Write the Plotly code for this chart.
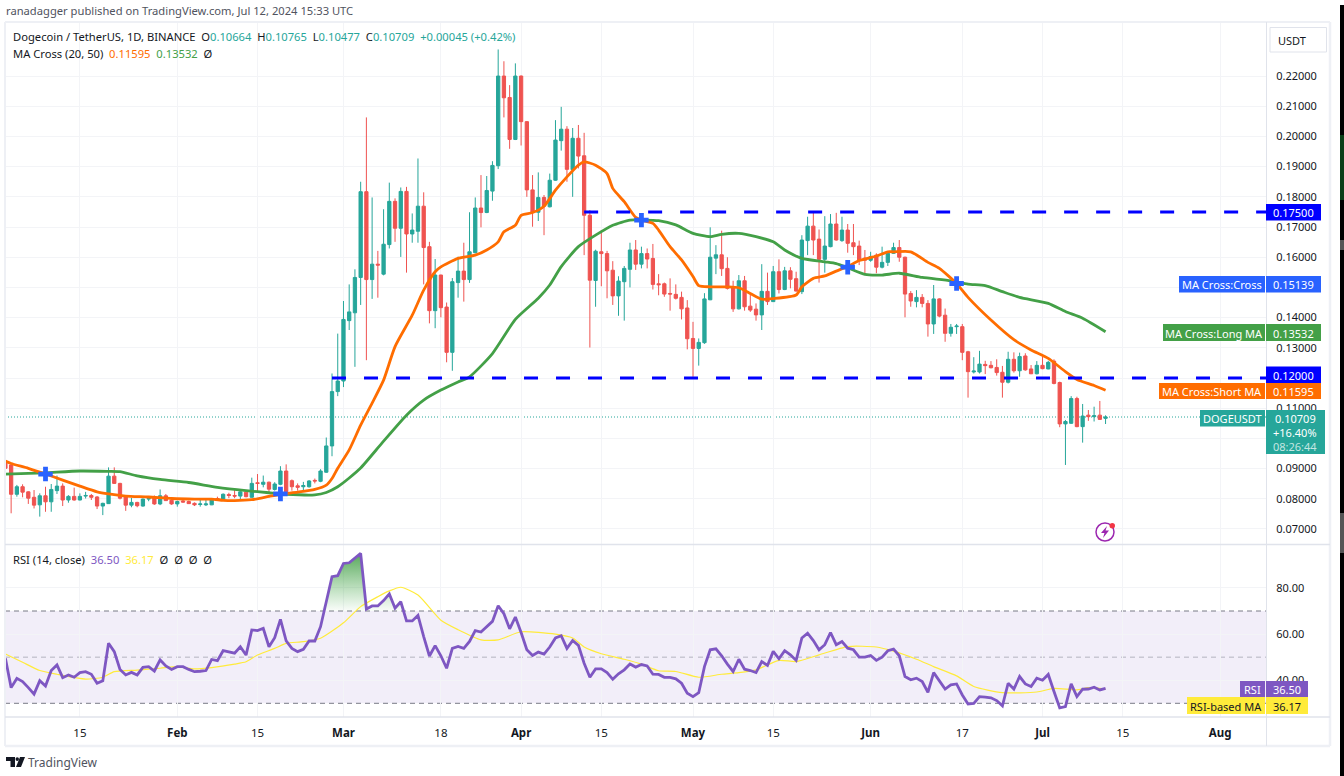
import pandas as pd
import plotly.graph_objects as go

# ---------- data ----------
first_day = "2024-01-02"
opens = [
 .0925,.0912,.0815,.0840,.0823,.0805,.0780,.0810,.0790,.0827,
 .0842,.0796,.0808,.0796,.0809,.0811,.0806,.0776,.0784,.0875,
 .0851,.0806,.0779,.0788,.0776,.0799,.0807,.0783,.0810,.0795,
 .0783,.0793,.0791,.0785,.0781,.0780,.0780,.0801,.0798,.0814,
 .0811,.0809,.0822,.0805,.0853,.0848,.0855,.0831,.0848,.0892,
 .0860,.0843,.0840,.0840,.0861,.0858,.0888,.0975,.1155,.1190,
 .1390,.1416,.1533,.1817,.1526,.1577,.1544,.1642,.1785,.1696,
 .1818,.1677,.1686,.1769,.1635,.1423,.1541,.1435,.1285,.1516,
 .1554,.1526,.1615,.1763,.1748,.1819,.1903,.2200,.2129,.1990,
 .2200,.2049,.1823,.1749,.1798,.1767,.1855,.1986,.2024,.1890,
 .1994,.1936,.1739,.1523,.1618,.1612,.1557,.1472,.1519,.1560,
 .1624,.1577,.1612,.1596,.1512,.1512,.1480,.1477,.1467,.1432,
 .1331,.1298,.1317,.1459,.1597,.1608,.1563,.1500,.1429,.1522,
 .1438,.1428,.1409,.1487,.1453,.1552,.1493,.1555,.1529,.1486,
 .1655,.1703,.1660,.1593,.1635,.1710,.1655,.1690,.1648,.1637,
 .1597,.1590,.1607,.1567,.1583,.1613,.1632,.1600,.1480,.1453,
 .1467,.1447,.1379,.1462,.1408,.1348,.1370,.1370,.1287,.1220,
 .1220,.1245,.1242,.1235,.1219,.1186,.1262,.1224,.1273,.1230,
 .1214,.1242,.1230,.1256,.1185,.1048,.1050,.1132,.1039,.1077,
 .1072,.1077,.10664]
highs = [
 .0931,.0917,.0846,.0848,.0825,.0829,.0818,.0840,.0849,.0877,
 .0851,.0812,.0837,.0818,.0823,.0816,.0809,.0787,.0904,.0904,
 .0853,.0812,.0803,.0790,.0801,.0807,.0811,.0831,.0816,.0798,
 .0794,.0798,.0794,.0788,.0802,.0796,.0801,.0807,.0818,.0820,
 .0834,.0829,.0829,.0870,.0882,.0877,.0857,.0855,.0908,.0914,
 .0864,.0851,.0856,.0862,.0867,.0898,.1003,.1215,.1347,.1455,
 .1510,.1560,.1850,.2063,.1798,.1621,.1759,.1847,.1795,.1831,
 .1833,.1745,.1927,.1815,.1651,.1594,.1542,.1450,.1531,.1602,
 .1648,.1749,.1798,.1872,.1869,.1918,.2288,.2249,.2170,.2242,
 .2202,.2051,.1872,.1881,.1806,.1877,.2054,.2098,.2034,.2028,
 .2038,.2012,.1756,.1625,.1690,.1621,.1587,.1537,.1571,.1648,
 .1657,.1635,.1629,.1644,.1544,.1516,.1530,.1510,.1486,.1458,
 .1386,.1331,.1481,.1699,.1640,.1688,.1600,.1522,.1541,.1538,
 .1481,.1447,.1577,.1549,.1571,.1593,.1568,.1567,.1552,.1673,
 .1734,.1751,.1692,.1736,.1743,.1747,.1734,.1710,.1710,.1655,
 .1624,.1618,.1613,.1635,.1618,.1648,.1657,.1602,.1488,.1491,
 .1478,.1458,.1508,.1464,.1430,.1379,.1379,.1379,.1290,.1269,
 .1290,.1257,.1256,.1262,.1240,.1287,.1285,.1284,.1282,.1243,
 .1256,.1271,.1257,.1262,.1188,.1061,.1140,.1138,.1114,.1094,
 .1105,.1124,.10765]
lows = [
 .0890,.0752,.0807,.0805,.0783,.0768,.0741,.0757,.0757,.0816,
 .0776,.0787,.0794,.0795,.0801,.0796,.0766,.0746,.0783,.0849,
 .0798,.0760,.0772,.0772,.0774,.0792,.0780,.0779,.0793,.0780,
 .0774,.0787,.0783,.0776,.0774,.0776,.0779,.0794,.0796,.0802,
 .0802,.0794,.0805,.0804,.0823,.0838,.0820,.0827,.0845,.0818,
 .0827,.0827,.0829,.0837,.0851,.0855,.0886,.0941,.1140,.1170,
 .1359,.1237,.1442,.1259,.1462,.1466,.1540,.1629,.1651,.1601,
 .1549,.1648,.1648,.1510,.1381,.1365,.1401,.1252,.1224,.1466,
 .1453,.1515,.1613,.1699,.1746,.1787,.1892,.2063,.1959,.1988,
 .1970,.1800,.1701,.1720,.1673,.1765,.1853,.1953,.1850,.1800,
 .1894,.1607,.1301,.1436,.1504,.1464,.1442,.1406,.1390,.1500,
 .1558,.1563,.1563,.1493,.1474,.1469,.1423,.1460,.1394,.1295,
 .1204,.1241,.1313,.1458,.1544,.1538,.1493,.1419,.1427,.1423,
 .1419,.1390,.1359,.1442,.1452,.1480,.1491,.1497,.1486,.1478,
 .1607,.1607,.1516,.1549,.1633,.1655,.1651,.1615,.1607,.1574,
 .1541,.1585,.1547,.1563,.1571,.1611,.1585,.1401,.1436,.1434,
 .1434,.1337,.1346,.1401,.1320,.1337,.1346,.1259,.1135,.1215,
 .1215,.1213,.1232,.1208,.1135,.1182,.1218,.1204,.1224,.1213,
 .1212,.1229,.1229,.1179,.1037,.0912,.1048,.1037,.0986,.1058,
 .1056,.1061,.10477]
closes = [
 .0901,.0815,.0840,.0822,.0802,.0779,.0810,.0790,.0831,.0842,
 .0796,.0808,.0796,.0808,.0811,.0805,.0776,.0785,.0875,.0851,
 .0802,.0779,.0788,.0777,.0799,.0801,.0783,.0810,.0794,.0783,
 .0791,.0789,.0784,.0780,.0783,.0783,.0799,.0799,.0815,.0811,
 .0809,.0823,.0807,.0851,.0851,.0855,.0832,.0849,.0892,.0823,
 .0840,.0838,.0844,.0859,.0859,.0892,.0975,.1155,.1190,.1394,
 .1419,.1533,.1817,.1526,.1577,.1574,.1643,.1785,.1696,.1818,
 .1677,.1690,.1769,.1632,.1423,.1541,.1433,.1285,.1519,.1554,
 .1526,.1618,.1763,.1748,.1821,.1904,.2200,.2128,.1990,.2200,
 .2049,.1823,.1749,.1798,.1769,.1855,.1988,.2024,.1891,.1994,
 .1935,.1739,.1524,.1620,.1612,.1555,.1472,.1521,.1563,.1624,
 .1577,.1612,.1594,.1510,.1509,.1478,.1478,.1464,.1429,.1330,
 .1298,.1318,.1462,.1600,.1608,.1562,.1497,.1429,.1522,.1436,
 .1425,.1409,.1487,.1453,.1552,.1493,.1555,.1527,.1488,.1657,
 .1703,.1657,.1593,.1637,.1710,.1657,.1690,.1646,.1635,.1591,
 .1590,.1602,.1567,.1583,.1613,.1632,.1600,.1478,.1455,.1467,
 .1447,.1379,.1462,.1405,.1348,.1368,.1372,.1285,.1221,.1223,
 .1246,.1241,.1234,.1218,.1186,.1262,.1224,.1271,.1227,.1214,
 .1242,.1231,.1252,.1182,.1048,.1056,.1132,.1039,.1074,.1072,
 .1075,.1063,.10709]
rsi = [
 49.5,36.8,40.8,39.4,36.8,34.0,39.8,37.5,44.2,46.6,
 41.1,42.3,41.3,43.3,43.7,42.6,38.7,39.8,56.0,52.4,
 44.7,42.3,43.4,42.3,45.6,45.9,44.0,48.8,46.2,44.7,
 45.9,45.9,44.7,43.7,43.9,44.2,49.0,48.5,52.8,52.4,
 51.7,54.5,50.9,61.8,61.5,62.5,54.5,58.4,66.4,57.1,
 53.8,52.4,53.4,57.0,57.0,63.2,74.0,84.9,85.3,90.6,
 90.9,92.8,95.0,70.9,72.2,72.2,74.5,77.4,71.2,74.0,
 65.7,65.7,68.1,58.9,50.5,55.0,50.6,45.2,53.8,54.6,
 53.8,56.8,61.5,60.9,63.0,65.5,72.3,68.8,62.3,67.4,
 60.7,53.2,50.7,52.2,51.3,54.4,58.3,59.3,53.8,57.2,
 55.1,47.4,41.3,44.9,44.9,43.3,40.4,42.8,44.5,47.0,
 45.7,46.8,46.2,42.6,42.5,41.3,41.2,40.6,38.7,34.4,
 32.9,34.6,45.9,53.2,53.6,50.6,47.0,43.8,49.1,44.8,
 44.2,43.3,48.1,46.4,52.5,49.3,52.8,51.0,48.6,58.3,
 60.4,57.2,53.2,55.4,60.7,55.4,56.8,53.9,53.2,50.0,
 50.0,50.7,48.6,50.0,52.8,53.5,50.6,41.6,40.2,40.9,
 39.4,34.8,43.3,39.9,36.2,38.0,38.4,33.6,29.7,30.0,
 32.9,32.7,32.4,31.2,28.9,38.7,36.2,41.6,38.4,37.3,
 40.9,40.0,42.5,35.1,28.0,28.6,38.4,32.9,36.1,36.2,
 37.0,35.8,36.5]

ma20_dates_offset = [-30,-29,-26,-23,-20,-17,-14,-12,-9,-5,-1,3,6,8,10,13,16,18,21,24,26,27,28,30,32,34,36,38,41,43,
 45,46,49,52,54,56,57,59,60,62,64,66,68,70,71,73,75,76,78,80,81,83,84,86,88,90,91,93,96,98,
 100,102,104,108,109,111,113,115,117,119,122,124,125,128,131,133,136,138,142,146,149,152,155,157,160,162]
ma20_values = [.0925,.0917,.0901,.0882,.0862,.0842,.0823,.0816,.0809,.0806,.0801,.0799,.0799,.0795,.0794,.0797,.0808,.0815,.0822,.0831,
 .0845,.0867,.0901,.0962,.1044,.1117,.1193,.1304,.1408,.1491,.1552,.1568,.1596,.1607,.1624,.1651,.1684,.1706,.1739,.1748,
 .1769,.1822,.1866,.1905,.1916,.1905,.1877,.1828,.1784,.1732,.1723,.1712,.1690,.1635,.1591,.1536,.1506,.1502,.1502,.1499,
 .1480,.1461,.1463,.1475,.1502,.1530,.1538,.1554,.1569,.1589,.1604,.1618,.1618,.1618,.1583,.1563,.1513,.1467,.1392,.1327,
 .1293,.1265,.1221,.1195,.1175,.11595]
ma50_dates_offset = [-30,-26,-23,-17,-12,-10,-7,-3,2,7,12,16,19,24,26,28,30,32,36,40,43,46,49,51,55,59,63,65,67,70,
 73,76,79,81,84,87,90,93,95,98,101,104,106,109,113,115,117,120,123,126,130,135,138,141,144,147,152,155,158,162]
ma50_values = [.0882,.0884,.0886,.0892,.0891,.0890,.0876,.0864,.0854,.0838,.0827,.0820,.0815,.0813,.0821,.0840,.0869,.0902,.0991,.1077,
 .1127,.1160,.1187,.1204,.1281,.1394,.1464,.1508,.1569,.1635,.1673,.1706,.1723,.1723,.1721,.1707,.1679,.1668,.1676,.1679,
 .1668,.1651,.1624,.1596,.1585,.1579,.1565,.1543,.1541,.1547,.1533,.1522,.1511,.1506,.1486,.1467,.1447,.1420,.1398,.13532]
cross_dates_offset = [-23,18,81,117,136]
cross_values = [.0882,.0816,.1723,.1567,.1513]
rsi_ma_dates_offset = [-30,-27,-24,-21,-16,-13,-11,-7,-3,0,3,6,10,12,14,17,19,22,25,29,32,35,37,39,42,46,49,53,56,60,
 66,69,71,74,78,81,84,87,91,95,98,101,105,108,112,117,122,125,129,132,136,139,144,150,153,157,159,162]
rsi_ma_values = [51.4,47.8,44.2,42.6,40.5,41.3,43.7,44.4,45.2,45.9,44.9,45.5,47.0,48.0,50.9,53.8,56.0,56.7,58.2,64.9,
 71.9,76.2,78.7,80.3,76.9,66.0,61.9,57.5,57.5,61.0,60.0,58.3,54.4,51.5,49.1,47.0,44.1,43.8,41.3,42.6,
 43.3,44.5,48.6,48.1,51.0,54.6,54.4,52.6,49.1,45.9,41.9,37.3,34.6,34.9,36.5,35.8,36.8,36.17]
level_high = 0.175
level_low = 0.12
level_high_start = 71
level_low_start = 27
last_price = 0.10709
price_ticks = [.07,.08,.09,.10,.11,.12,.13,.14,.15,.16,.17,.18,.19,.20,.21,.22]
price_ticks_hidden = [.10,.12,.15]
rsi_ticks = [40,60,80]
time_ticks = ["2024-01-15","2024-02-01","2024-02-15","2024-03-01","2024-03-18","2024-04-01","2024-04-15",
              "2024-05-01","2024-05-15","2024-06-01","2024-06-17","2024-07-01","2024-07-15","2024-08-01"]
time_labels = ["15","<b>Feb</b>","15","<b>Mar</b>","18","<b>Apr</b>","15","<b>May</b>","15","<b>Jun</b>","17","<b>Jul</b>","15","<b>Aug</b>"]

# ---------- layout helpers ----------
W, H = 1344, 776
L, R, T, B = 5, 1266, 22, 717
FONT = "Noto Sans"
base = pd.Timestamp("2024-02-01")
def dt(offsets):
    return [base + pd.Timedelta(days=o) for o in offsets]
def px(x): return (x - L) / (R - L)
def py(y): return (B - y) / (B - T)

shapes, anns = [], []
def rect(x0, y0, x1, y1, fill, line=None, layer="above"):
    shapes.append(dict(type="rect", xref="paper", yref="paper", x0=px(x0), x1=px(x1), y0=py(y0), y1=py(y1),
                       fillcolor=fill, line=dict(width=1 if line else 0, color=line or fill), layer=layer))
def hline(x0, y0, x1, y1, color, width=1):
    shapes.append(dict(type="line", xref="paper", yref="paper", x0=px(x0), x1=px(x1), y0=py(y0), y1=py(y1),
                       line=dict(color=color, width=width), layer="above"))
def text(x, y, s, color="#131722", size=11, anchor="left"):
    anns.append(dict(xref="paper", yref="paper", x=px(x), y=py(y), text=s, showarrow=False, xanchor=anchor,
                     yanchor="middle", align="left", font=dict(family=FONT, size=size, color=color), borderpad=0, borderwidth=0))

dates = pd.date_range(first_day, periods=len(closes), freq="D")
xr = [base + pd.Timedelta(days=(L - 177.3) / 5.73), base + pd.Timedelta(days=(R - 177.3) / 5.73)]
axis_end = 190

fig = go.Figure()
# RSI panel
ob_slice = slice(55, 71)
ob_x = list(dates[ob_slice])
ob_y = [max(v, 70) for v in rsi[ob_slice]]
fig.add_trace(go.Scatter(x=ob_x, y=[70] * len(ob_x), yaxis="y2", mode="lines", line=dict(width=0), hoverinfo="skip", showlegend=False))
fig.add_trace(go.Scatter(x=ob_x, y=ob_y, yaxis="y2", mode="lines", line=dict(width=0), fill="tonexty",
                         fillgradient=dict(type="vertical", start=70, stop=95,
                                           colorscale=[[0, "rgba(76,175,80,0.03)"], [1, "rgba(56,150,60,0.85)"]]),
                         hoverinfo="skip", showlegend=False))
fig.add_trace(go.Scatter(x=dt(rsi_ma_dates_offset), y=rsi_ma_values, yaxis="y2", mode="lines",
                         line=dict(color="#ffeb3b", width=1.2, shape="spline", smoothing=0.6), hoverinfo="skip", showlegend=False))
fig.add_trace(go.Scatter(x=dates, y=rsi, yaxis="y2", mode="lines", line=dict(color="#7e57c2", width=2.8),
                         hoverinfo="skip", showlegend=False))
# Price panel
fig.add_trace(go.Candlestick(x=dates, open=opens, high=highs, low=lows, close=closes,
                             increasing=dict(line=dict(color="#26a69a", width=1), fillcolor="#26a69a"),
                             decreasing=dict(line=dict(color="#ef5350", width=1), fillcolor="#ef5350"),
                             whiskerwidth=0, hoverinfo="skip", showlegend=False))
fig.add_trace(go.Scatter(x=dt(ma50_dates_offset), y=ma50_values, mode="lines",
                         line=dict(color="#43a047", width=2.8, shape="spline", smoothing=0.6),
                         hoverinfo="skip", showlegend=False))
fig.add_trace(go.Scatter(x=dt(ma20_dates_offset), y=ma20_values, mode="lines",
                         line=dict(color="#ff6d00", width=2.8, shape="spline", smoothing=0.6),
                         hoverinfo="skip", showlegend=False))
for start, lvl in [(level_high_start, level_high), (level_low_start, level_low)]:
    fig.add_trace(go.Scatter(x=dt([start, axis_end]), y=[lvl, lvl], mode="lines",
                             line=dict(color="#0000ff", width=3, dash="14px,18px"), hoverinfo="skip", showlegend=False))
fig.add_trace(go.Scatter(x=dt(cross_dates_offset), y=cross_values, mode="markers",
                         marker=dict(symbol="cross", size=12, color="#2962ff", line=dict(width=0)),
                         hoverinfo="skip", showlegend=False))

# RSI bands
shapes.append(dict(type="rect", xref="paper", yref="y2", x0=0, x1=1, y0=30, y1=70, fillcolor="rgba(126,87,194,0.1)",
                   line=dict(width=0), layer="below"))
for lvl, col in [(70, "#787b86"), (50, "rgba(120,123,134,0.5)"), (30, "#787b86")]:
    shapes.append(dict(type="line", xref="paper", yref="y2", x0=0, x1=1, y0=lvl, y1=lvl,
                       line=dict(color=col, width=1, dash="5px,4px"), layer="below"))
shapes.append(dict(type="line", xref="paper", yref="y", x0=0, x1=1, y0=last_price, y1=last_price,
                   line=dict(color="#26a69a", width=1, dash="1px,2px"), layer="below"))

# frame
FR = "#eef0f5"
hline(5, 22, 1330, 22, FR, 2); hline(5, 746, 1330, 746, FR, 2.5)
hline(5, 22, 5, 746, FR, 2); hline(1330, 22, 1330, 746, FR, 2.5)
hline(5, 544.5, 1330, 544.5, "#e0e3eb", 1.5); hline(5, 717, 1330, 717, "#e0e3eb", 1.5)
hline(1266.5, 22, 1266.5, 746, "#e0e3eb", 1)

# right-hand labels
def tag(y0, y1, x0, x1, fill, label, color="#ffffff"):
    rect(x0, y0, x1, y1, fill)
    text((x0 + x1) / 2, (y0 + y1) / 2 + 0.5, label, color=color, size=11, anchor="center")
tag(204, 220.5, 1266, 1321, "#0000ff", "0.17500")
tag(276, 292.5, 1179, 1265, "#2962ff", "MA Cross:Cross"); tag(276, 292.5, 1266, 1321, "#2962ff", "0.15139")
tag(324, 341, 1163, 1265, "#43a047", "MA Cross:Long MA"); tag(324, 341, 1266, 1321, "#43a047", "0.13532")
tag(366.5, 383, 1266, 1321, "#0000ff", "0.12000")
tag(383, 399, 1159, 1265, "#ff6d00", "MA Cross:Short MA"); tag(383, 399, 1266, 1321, "#ff6d00", "0.11595")
tag(410, 426.5, 1200, 1265, "#26a69a", "DOGEUSDT")
rect(1266, 410, 1325, 454, "#26a69a")
text(1295, 418.5, "0.10709", "#ffffff", 11, "center")
text(1295, 432, "+16.40%", "#ffffff", 11, "center")
text(1295, 446, "08:26:44", "#c4e6e2", 11, "center")
tag(681, 697, 1240, 1265, "#7e57c2", "RSI"); tag(681, 697, 1266, 1308, "#7e57c2", "36.50")
tag(697, 714, 1187, 1265, "#ffeb3b", "RSI-based MA", "#131722"); tag(697, 714, 1266, 1308, "#ffeb3b", "36.17", "#131722")

# USDT button
rect(1270, 27.5, 1326.5, 52, "#ffffff", "#e0e3eb")
text(1291.5, 40, "USDT", "#131722", 11, "center")

# headers
GREEN = "#26a69a"
def sp(c, t): return f'<span style="color:{c}">{t}</span>'
text(6, 11, "ranadagger published on TradingView.com, Jul 12, 2024 15:33 UTC", "#50535e", 11.2)
text(13, 37, "Dogecoin / TetherUS, 1D, BINANCE  O" + sp(GREEN, "0.10664") + "  H" + sp(GREEN, "0.10765") + "  L" + sp(GREEN, "0.10477")
     + "  C" + sp(GREEN, "0.10709") + "  " + sp(GREEN, "+0.00045 (+0.42%)"), "#131722", 11.2)
text(13, 54, "MA Cross (20, 50)  " + sp("#ff6d00", "0.11595") + "  " + sp("#43a047", "0.13532") + "  Ø", "#131722", 11.2)
text(13, 559, "RSI (14, close)  " + sp("#7e57c2", "36.50") + "  " + sp("#ffeb3b", "36.17") + "  Ø  Ø  Ø  Ø", "#131722", 11.2)

# footer logo
def poly(points, fill):
    d = "M" + " L".join(f"{px(x)},{py(y)}" for x, y in points) + " Z"
    shapes.append(dict(type="path", xref="paper", yref="paper", path=d, fillcolor=fill, line=dict(width=0), layer="above"))
poly([(6, 757), (15, 757), (15, 767), (10.5, 767), (10.5, 761), (6, 761)], "#131722")
poly([(20, 757), (25, 757), (21, 767), (16, 767)], "#131722")
shapes.append(dict(type="circle", xref="paper", yref="paper", x0=px(15.5), x1=px(19), y0=py(761), y1=py(757.2),
                   fillcolor="#131722", line=dict(width=0), layer="above"))
text(28, 762, "TradingView", "#50535e", 12)

# lightning badge
shapes.append(dict(type="circle", xref="paper", yref="paper", x0=px(1096), x1=px(1114), y0=py(541), y1=py(523),
                   fillcolor="#ffffff", line=dict(color="#9c27b0", width=1.5), layer="above"))
poly([(1107, 526), (1101, 533), (1104.5, 533), (1103, 538), (1109, 530.5), (1105.5, 530.5)], "#9c27b0")
shapes.append(dict(type="circle", xref="paper", yref="paper", x0=px(1109.5), x1=px(1115), y0=py(528.5), y1=py(523),
                   fillcolor="#f23645", line=dict(width=0), layer="above"))

# window edge visible at the right of the screenshot
rect(1340, 5, 1344, 776, "#000000")
rect(1340, 240, 1344, 250, "#555555")
rect(1340, 513, 1344, 553, "#555555")
rect(1340, 135, 1344, 200, "#0b3d17")

fig.update_layout(
    width=W, height=H, margin=dict(l=L, r=W - R, t=T, b=H - B, autoexpand=False),
    paper_bgcolor="#ffffff", plot_bgcolor="#ffffff", showlegend=False, dragmode=False, boxgap=0.18,
    font=dict(family=FONT, size=11, color="#131722"),
    shapes=shapes, annotations=anns,
    xaxis=dict(type="date", range=xr, anchor="y2", rangeslider=dict(visible=False), tickmode="array", tickvals=time_ticks,
               ticktext=time_labels, showgrid=True, gridcolor="#f3f4f7", gridwidth=1, zeroline=False, showline=False,
               ticks="outside", ticklen=5, tickcolor="rgba(0,0,0,0)", tickfont=dict(size=11.5, color="#131722"), tickangle=0),
    yaxis=dict(domain=[(B - 544) / (B - T), 1], range=[0.06503, 0.2379], side="right", tickmode="array",
               tickvals=price_ticks, ticktext=["" if v in price_ticks_hidden else f"{v:.5f}" for v in price_ticks],
               showgrid=True, gridcolor="#f3f4f7",
               zeroline=False, showline=False, ticks="outside", ticklen=7, tickcolor="rgba(0,0,0,0)",
               tickfont=dict(size=11, color="#131722")),
    yaxis2=dict(domain=[0, (B - 545) / (B - T)], range=[24.07, 98.6], side="right", anchor="x", tickmode="array",
                tickvals=rsi_ticks, ticktext=[f"{v:.2f}" for v in rsi_ticks], showgrid=True, gridcolor="#f3f4f7",
                zeroline=False, showline=False, ticks="outside", ticklen=7, tickcolor="rgba(0,0,0,0)",
                tickfont=dict(size=11, color="#131722")),
)
fig.write_html("out.html", config=dict(displayModeBar=False, responsive=False),
               post_script="document.body.style.margin='0';document.documentElement.style.overflow='hidden';")
